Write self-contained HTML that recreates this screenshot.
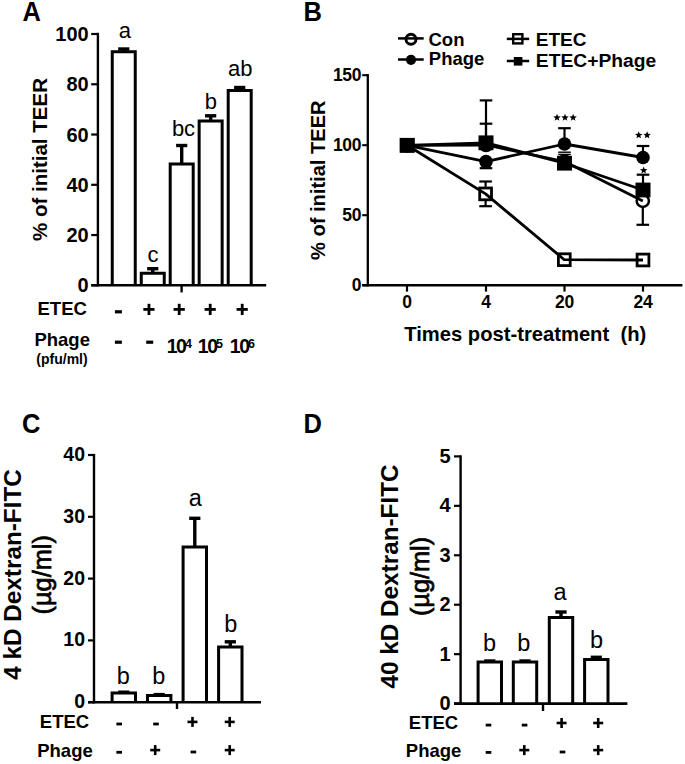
<!DOCTYPE html>
<html><head><meta charset="utf-8"><style>
html,body{margin:0;padding:0;background:#fff;}
svg{display:block;}
text{font-family:"Liberation Sans", sans-serif;fill:#000;}
</style></head><body>
<svg width="685" height="764" viewBox="0 0 685 764">
<rect width="685" height="764" fill="#fff"/>
<text transform="translate(22.4,20.9) scale(1,1.06)" font-size="25.5" font-weight="bold">A</text>
<line x1="97.90" y1="32.80" x2="97.90" y2="286.50" stroke="#000" stroke-width="2.4" stroke-linecap="butt"/>
<line x1="91.20" y1="285.30" x2="97.90" y2="285.30" stroke="#000" stroke-width="2.2" stroke-linecap="butt"/>
<text x="88.70" y="292.40" font-size="20" font-weight="bold" text-anchor="end" >0</text>
<line x1="91.20" y1="235.04" x2="97.90" y2="235.04" stroke="#000" stroke-width="2.2" stroke-linecap="butt"/>
<text x="88.70" y="242.14" font-size="20" font-weight="bold" text-anchor="end" >20</text>
<line x1="91.20" y1="184.78" x2="97.90" y2="184.78" stroke="#000" stroke-width="2.2" stroke-linecap="butt"/>
<text x="88.70" y="191.88" font-size="20" font-weight="bold" text-anchor="end" >40</text>
<line x1="91.20" y1="134.52" x2="97.90" y2="134.52" stroke="#000" stroke-width="2.2" stroke-linecap="butt"/>
<text x="88.70" y="141.62" font-size="20" font-weight="bold" text-anchor="end" >60</text>
<line x1="91.20" y1="84.26" x2="97.90" y2="84.26" stroke="#000" stroke-width="2.2" stroke-linecap="butt"/>
<text x="88.70" y="91.36" font-size="20" font-weight="bold" text-anchor="end" >80</text>
<line x1="91.20" y1="34.00" x2="97.90" y2="34.00" stroke="#000" stroke-width="2.2" stroke-linecap="butt"/>
<text x="88.70" y="41.10" font-size="20" font-weight="bold" text-anchor="end" >100</text>
<line x1="91.20" y1="285.30" x2="266.20" y2="285.30" stroke="#000" stroke-width="2.6" stroke-linecap="butt"/>
<line x1="181.60" y1="285.30" x2="181.60" y2="292.40" stroke="#000" stroke-width="2.4" stroke-linecap="butt"/>
<text transform="translate(47.00,159.50) rotate(-90)" font-size="20.5" font-weight="bold" text-anchor="middle" >% of initial TEER</text>
<line x1="123.75" y1="49.00" x2="123.75" y2="51.70" stroke="#000" stroke-width="3.4" stroke-linecap="butt"/>
<line x1="118.15" y1="49.00" x2="129.35" y2="49.00" stroke="#000" stroke-width="3.4" stroke-linecap="butt"/>
<line x1="152.75" y1="268.70" x2="152.75" y2="273.20" stroke="#000" stroke-width="3.4" stroke-linecap="butt"/>
<line x1="147.15" y1="268.70" x2="158.35" y2="268.70" stroke="#000" stroke-width="3.4" stroke-linecap="butt"/>
<line x1="181.70" y1="145.50" x2="181.70" y2="164.10" stroke="#000" stroke-width="3.4" stroke-linecap="butt"/>
<line x1="176.10" y1="145.50" x2="187.30" y2="145.50" stroke="#000" stroke-width="3.4" stroke-linecap="butt"/>
<line x1="210.65" y1="115.80" x2="210.65" y2="121.10" stroke="#000" stroke-width="3.4" stroke-linecap="butt"/>
<line x1="205.05" y1="115.80" x2="216.25" y2="115.80" stroke="#000" stroke-width="3.4" stroke-linecap="butt"/>
<line x1="239.70" y1="87.50" x2="239.70" y2="90.50" stroke="#000" stroke-width="3.4" stroke-linecap="butt"/>
<line x1="234.10" y1="87.50" x2="245.30" y2="87.50" stroke="#000" stroke-width="3.4" stroke-linecap="butt"/>
<path d="M112.25,285.30 V51.70 H135.25 V285.30" fill="none" stroke="#000" stroke-width="3.0" stroke-linejoin="miter"/>
<path d="M141.25,285.30 V273.20 H164.25 V285.30" fill="none" stroke="#000" stroke-width="3.0" stroke-linejoin="miter"/>
<path d="M170.20,285.30 V164.10 H193.20 V285.30" fill="none" stroke="#000" stroke-width="3.0" stroke-linejoin="miter"/>
<path d="M199.15,285.30 V121.10 H222.15 V285.30" fill="none" stroke="#000" stroke-width="3.0" stroke-linejoin="miter"/>
<path d="M228.20,285.30 V90.50 H251.20 V285.30" fill="none" stroke="#000" stroke-width="3.0" stroke-linejoin="miter"/>
<text x="124.75" y="37.70" font-size="22" font-weight="normal" text-anchor="middle" >a</text>
<text x="152.90" y="262.00" font-size="22" font-weight="normal" text-anchor="middle" >c</text>
<text x="183.50" y="136.30" font-size="22" font-weight="normal" text-anchor="middle" >bc</text>
<text x="210.80" y="108.70" font-size="22" font-weight="normal" text-anchor="middle" >b</text>
<text x="240.20" y="75.70" font-size="22" font-weight="normal" text-anchor="middle" >ab</text>
<text x="62.20" y="314.60" font-size="18.5" font-weight="bold" text-anchor="middle" >ETEC</text>
<text x="62.20" y="345.60" font-size="18.5" font-weight="bold" text-anchor="middle" >Phage</text>
<text x="62.00" y="363.80" font-size="14" font-weight="bold" text-anchor="middle" >(pfu/ml)</text>
<rect x="114.90" y="310.20" width="7.00" height="3.20" fill="#000"/>
<rect x="143.35" y="308.00" width="11.20" height="2.80" fill="#000"/>
<rect x="147.55" y="303.80" width="2.80" height="11.20" fill="#000"/>
<rect x="173.60" y="308.00" width="11.20" height="2.80" fill="#000"/>
<rect x="177.80" y="303.80" width="2.80" height="11.20" fill="#000"/>
<rect x="204.60" y="308.00" width="11.20" height="2.80" fill="#000"/>
<rect x="208.80" y="303.80" width="2.80" height="11.20" fill="#000"/>
<rect x="236.60" y="308.00" width="11.20" height="2.80" fill="#000"/>
<rect x="240.80" y="303.80" width="2.80" height="11.20" fill="#000"/>
<rect x="114.90" y="340.60" width="7.00" height="3.20" fill="#000"/>
<rect x="146.20" y="340.60" width="7.00" height="3.20" fill="#000"/>
<text x="166.70" y="353.2" font-size="19.5" font-weight="bold" letter-spacing="-1.5">10<tspan font-size="12.5" dx="-0.4" dy="-5.6" letter-spacing="0">4</tspan></text>
<text x="197.80" y="353.2" font-size="19.5" font-weight="bold" letter-spacing="-1.5">10<tspan font-size="12.5" dx="-0.4" dy="-5.6" letter-spacing="0">5</tspan></text>
<text x="229.80" y="353.2" font-size="19.5" font-weight="bold" letter-spacing="-1.5">10<tspan font-size="12.5" dx="-0.4" dy="-5.6" letter-spacing="0">6</tspan></text>
<text transform="translate(303.4,20.9) scale(1,1.06)" font-size="25.5" font-weight="bold">B</text>
<line x1="367.80" y1="74.10" x2="367.80" y2="286.40" stroke="#000" stroke-width="2.3" stroke-linecap="butt"/>
<line x1="362.20" y1="285.20" x2="367.80" y2="285.20" stroke="#000" stroke-width="2.1" stroke-linecap="butt"/>
<text x="361.00" y="291.40" font-size="17.5" font-weight="bold" text-anchor="end" letter-spacing="-0.4">0</text>
<line x1="362.20" y1="215.20" x2="367.80" y2="215.20" stroke="#000" stroke-width="2.1" stroke-linecap="butt"/>
<text x="361.00" y="221.40" font-size="17.5" font-weight="bold" text-anchor="end" letter-spacing="-0.4">50</text>
<line x1="362.20" y1="145.20" x2="367.80" y2="145.20" stroke="#000" stroke-width="2.1" stroke-linecap="butt"/>
<text x="361.00" y="151.40" font-size="17.5" font-weight="bold" text-anchor="end" letter-spacing="-0.4">100</text>
<line x1="362.20" y1="75.20" x2="367.80" y2="75.20" stroke="#000" stroke-width="2.1" stroke-linecap="butt"/>
<text x="361.00" y="81.40" font-size="17.5" font-weight="bold" text-anchor="end" letter-spacing="-0.4">150</text>
<line x1="362.20" y1="285.30" x2="682.40" y2="285.30" stroke="#000" stroke-width="2.4" stroke-linecap="butt"/>
<line x1="407.00" y1="285.30" x2="407.00" y2="291.60" stroke="#000" stroke-width="2.2" stroke-linecap="butt"/>
<text x="407.00" y="307.80" font-size="17.5" font-weight="bold" text-anchor="middle" letter-spacing="-0.3">0</text>
<line x1="486.00" y1="285.30" x2="486.00" y2="291.60" stroke="#000" stroke-width="2.2" stroke-linecap="butt"/>
<text x="486.00" y="307.80" font-size="17.5" font-weight="bold" text-anchor="middle" letter-spacing="-0.3">4</text>
<line x1="564.50" y1="285.30" x2="564.50" y2="291.60" stroke="#000" stroke-width="2.2" stroke-linecap="butt"/>
<text x="564.50" y="307.80" font-size="17.5" font-weight="bold" text-anchor="middle" letter-spacing="-0.3">20</text>
<line x1="643.00" y1="285.30" x2="643.00" y2="291.60" stroke="#000" stroke-width="2.2" stroke-linecap="butt"/>
<text x="643.00" y="307.80" font-size="17.5" font-weight="bold" text-anchor="middle" letter-spacing="-0.3">24</text>
<text transform="translate(404.2,341.0) scale(1,1.03)" font-size="20.2" font-weight="bold">Times post-treatment</text>
<text transform="translate(620.4,341.0) scale(1,1.03)" font-size="20.2" font-weight="bold">(h)</text>
<text transform="translate(325.20,180.20) rotate(-90)" font-size="20.1" font-weight="bold" text-anchor="middle" >% of initial TEER</text>
<line x1="486.00" y1="100.40" x2="486.00" y2="136.00" stroke="#000" stroke-width="2.2" stroke-linecap="butt"/>
<line x1="479.70" y1="100.40" x2="492.30" y2="100.40" stroke="#000" stroke-width="2.2" stroke-linecap="butt"/>
<line x1="486.00" y1="123.70" x2="486.00" y2="136.00" stroke="#000" stroke-width="2.2" stroke-linecap="butt"/>
<line x1="479.70" y1="123.70" x2="492.30" y2="123.70" stroke="#000" stroke-width="2.2" stroke-linecap="butt"/>
<line x1="485.60" y1="181.50" x2="485.60" y2="186.80" stroke="#000" stroke-width="2.2" stroke-linecap="butt"/>
<line x1="479.30" y1="181.50" x2="491.90" y2="181.50" stroke="#000" stroke-width="2.2" stroke-linecap="butt"/>
<line x1="485.60" y1="206.20" x2="485.60" y2="201.00" stroke="#000" stroke-width="2.2" stroke-linecap="butt"/>
<line x1="479.30" y1="206.20" x2="491.90" y2="206.20" stroke="#000" stroke-width="2.2" stroke-linecap="butt"/>
<line x1="486.00" y1="168.20" x2="486.00" y2="165.00" stroke="#000" stroke-width="2.2" stroke-linecap="butt"/>
<line x1="479.70" y1="168.20" x2="492.30" y2="168.20" stroke="#000" stroke-width="2.2" stroke-linecap="butt"/>
<line x1="564.50" y1="128.20" x2="564.50" y2="138.00" stroke="#000" stroke-width="2.2" stroke-linecap="butt"/>
<line x1="558.20" y1="128.20" x2="570.80" y2="128.20" stroke="#000" stroke-width="2.2" stroke-linecap="butt"/>
<line x1="558.20" y1="152.20" x2="570.80" y2="152.20" stroke="#000" stroke-width="1.4" stroke-linecap="butt"/>
<line x1="558.20" y1="154.40" x2="570.80" y2="154.40" stroke="#000" stroke-width="1.4" stroke-linecap="butt"/>
<line x1="643.00" y1="146.00" x2="643.00" y2="151.00" stroke="#000" stroke-width="2.2" stroke-linecap="butt"/>
<line x1="636.70" y1="146.00" x2="649.30" y2="146.00" stroke="#000" stroke-width="2.2" stroke-linecap="butt"/>
<line x1="643.00" y1="174.70" x2="643.00" y2="183.00" stroke="#000" stroke-width="2.2" stroke-linecap="butt"/>
<line x1="636.70" y1="174.70" x2="649.30" y2="174.70" stroke="#000" stroke-width="2.2" stroke-linecap="butt"/>
<line x1="642.80" y1="224.80" x2="642.80" y2="208.00" stroke="#000" stroke-width="2.2" stroke-linecap="butt"/>
<line x1="636.50" y1="224.80" x2="649.10" y2="224.80" stroke="#000" stroke-width="2.2" stroke-linecap="butt"/>
<polyline points="407.20,145.30 486.00,145.00 564.50,161.50 642.80,200.90" fill="none" stroke="#000" stroke-width="2.8" stroke-linejoin="round"/>
<polyline points="407.20,145.30 486.00,161.60 564.50,144.00 643.00,157.50" fill="none" stroke="#000" stroke-width="2.8" stroke-linejoin="round"/>
<polyline points="407.20,145.30 485.60,193.90 564.30,259.70 643.00,260.00" fill="none" stroke="#000" stroke-width="2.8" stroke-linejoin="round"/>
<polyline points="407.20,145.30 486.00,142.80 564.50,163.20 643.00,190.00" fill="none" stroke="#000" stroke-width="2.8" stroke-linejoin="round"/>
<circle cx="407.20" cy="145.30" r="6.1" fill="none" stroke="#000" stroke-width="2.5"/>
<circle cx="486.00" cy="145.00" r="6.1" fill="none" stroke="#000" stroke-width="2.5"/>
<circle cx="564.50" cy="161.50" r="6.1" fill="none" stroke="#000" stroke-width="2.5"/>
<circle cx="642.80" cy="200.90" r="6.1" fill="none" stroke="#000" stroke-width="2.5"/>
<circle cx="407.20" cy="145.30" r="6.8" fill="#000"/>
<circle cx="486.00" cy="161.60" r="6.8" fill="#000"/>
<circle cx="564.50" cy="144.00" r="6.8" fill="#000"/>
<circle cx="643.00" cy="157.50" r="6.8" fill="#000"/>
<rect x="401.30" y="139.40" width="11.8" height="11.8" fill="none" stroke="#000" stroke-width="2.8"/>
<rect x="479.70" y="188.00" width="11.8" height="11.8" fill="none" stroke="#000" stroke-width="2.8"/>
<rect x="558.40" y="253.80" width="11.8" height="11.8" fill="none" stroke="#000" stroke-width="2.8"/>
<rect x="637.10" y="254.10" width="11.8" height="11.8" fill="none" stroke="#000" stroke-width="2.8"/>
<rect x="399.70" y="137.90" width="15" height="14.8" fill="#000"/>
<rect x="478.50" y="135.40" width="15" height="14.8" fill="#000"/>
<rect x="557.00" y="155.80" width="15" height="14.8" fill="#000"/>
<rect x="635.50" y="182.60" width="15" height="14.8" fill="#000"/>
<polygon points="557.00,113.70 558.01,116.21 560.71,116.39 558.63,118.13 559.29,120.76 557.00,119.32 554.71,120.76 555.37,118.13 553.29,116.39 555.99,116.21" fill="#000"/>
<polygon points="565.00,113.70 566.01,116.21 568.71,116.39 566.63,118.13 567.29,120.76 565.00,119.32 562.71,120.76 563.37,118.13 561.29,116.39 563.99,116.21" fill="#000"/>
<polygon points="573.10,113.70 574.11,116.21 576.81,116.39 574.73,118.13 575.39,120.76 573.10,119.32 570.81,120.76 571.47,118.13 569.39,116.39 572.09,116.21" fill="#000"/>
<polygon points="638.70,131.30 639.71,133.81 642.41,133.99 640.33,135.73 640.99,138.36 638.70,136.92 636.41,138.36 637.07,135.73 634.99,133.99 637.69,133.81" fill="#000"/>
<polygon points="647.10,131.30 648.11,133.81 650.81,133.99 648.73,135.73 649.39,138.36 647.10,136.92 644.81,138.36 645.47,135.73 643.39,133.99 646.09,133.81" fill="#000"/>
<polygon points="643.70,166.50 644.71,169.01 647.41,169.19 645.33,170.93 645.99,173.56 643.70,172.12 641.41,173.56 642.07,170.93 639.99,169.19 642.69,169.01" fill="#000"/>
<line x1="398.00" y1="38.40" x2="423.70" y2="38.40" stroke="#000" stroke-width="2.5" stroke-linecap="butt"/>
<circle cx="411" cy="39.3" r="5.0" fill="none" stroke="#000" stroke-width="2.9"/>
<text x="428.50" y="45.60" font-size="18.5" font-weight="bold" text-anchor="start" >Con</text>
<line x1="398.00" y1="59.50" x2="423.70" y2="59.50" stroke="#000" stroke-width="2.5" stroke-linecap="butt"/>
<circle cx="411" cy="59.8" r="5.1" fill="#000"/>
<text x="428.80" y="64.80" font-size="18.5" font-weight="bold" text-anchor="start" >Phage</text>
<line x1="506.80" y1="38.90" x2="529.20" y2="38.90" stroke="#000" stroke-width="2.5" stroke-linecap="butt"/>
<rect x="513.2" y="34.2" width="9.2" height="9.2" fill="none" stroke="#000" stroke-width="2.4"/>
<text x="535.80" y="46.30" font-size="19" font-weight="bold" text-anchor="start" >ETEC</text>
<line x1="506.80" y1="61.00" x2="529.20" y2="61.00" stroke="#000" stroke-width="2.5" stroke-linecap="butt"/>
<rect x="513.8" y="57.0" width="8.6" height="8.6" fill="#000"/>
<text x="535.80" y="67.20" font-size="19.25" font-weight="bold" text-anchor="start" >ETEC+Phage</text>
<text transform="translate(22.0,433.4) scale(1,1.06)" font-size="25.5" font-weight="bold">C</text>
<line x1="94.00" y1="453.90" x2="94.00" y2="703.40" stroke="#000" stroke-width="2.4" stroke-linecap="butt"/>
<line x1="88.00" y1="702.20" x2="94.00" y2="702.20" stroke="#000" stroke-width="2.2" stroke-linecap="butt"/>
<text x="85.00" y="708.10" font-size="19.5" font-weight="bold" text-anchor="end" >0</text>
<line x1="88.00" y1="640.40" x2="94.00" y2="640.40" stroke="#000" stroke-width="2.2" stroke-linecap="butt"/>
<text x="85.00" y="646.30" font-size="19.5" font-weight="bold" text-anchor="end" >10</text>
<line x1="88.00" y1="578.60" x2="94.00" y2="578.60" stroke="#000" stroke-width="2.2" stroke-linecap="butt"/>
<text x="85.00" y="584.50" font-size="19.5" font-weight="bold" text-anchor="end" >20</text>
<line x1="88.00" y1="516.80" x2="94.00" y2="516.80" stroke="#000" stroke-width="2.2" stroke-linecap="butt"/>
<text x="85.00" y="522.70" font-size="19.5" font-weight="bold" text-anchor="end" >30</text>
<line x1="88.00" y1="455.00" x2="94.00" y2="455.00" stroke="#000" stroke-width="2.2" stroke-linecap="butt"/>
<text x="85.00" y="460.90" font-size="19.5" font-weight="bold" text-anchor="end" >40</text>
<line x1="88.00" y1="702.20" x2="261.00" y2="702.20" stroke="#000" stroke-width="2.6" stroke-linecap="butt"/>
<line x1="177.00" y1="702.20" x2="177.00" y2="709.00" stroke="#000" stroke-width="2.4" stroke-linecap="butt"/>
<text transform="translate(21.00,574.50) rotate(-90)" font-size="24.3" font-weight="bold" text-anchor="middle" >4 kD Dextran-FITC</text>
<text transform="translate(51.00,574.80) rotate(-90)" font-size="25.3" font-weight="normal" text-anchor="middle" stroke="#000" stroke-width="0.7">(µg/ml)</text>
<line x1="123.80" y1="692.20" x2="123.80" y2="693.10" stroke="#000" stroke-width="3.4" stroke-linecap="butt"/>
<line x1="118.20" y1="692.20" x2="129.40" y2="692.20" stroke="#000" stroke-width="3.4" stroke-linecap="butt"/>
<line x1="159.20" y1="694.60" x2="159.20" y2="695.50" stroke="#000" stroke-width="3.4" stroke-linecap="butt"/>
<line x1="153.60" y1="694.60" x2="164.80" y2="694.60" stroke="#000" stroke-width="3.4" stroke-linecap="butt"/>
<line x1="194.80" y1="518.30" x2="194.80" y2="547.10" stroke="#000" stroke-width="3.4" stroke-linecap="butt"/>
<line x1="189.20" y1="518.30" x2="200.40" y2="518.30" stroke="#000" stroke-width="3.4" stroke-linecap="butt"/>
<line x1="230.30" y1="641.80" x2="230.30" y2="647.10" stroke="#000" stroke-width="3.4" stroke-linecap="butt"/>
<line x1="224.70" y1="641.80" x2="235.90" y2="641.80" stroke="#000" stroke-width="3.4" stroke-linecap="butt"/>
<path d="M112.10,702.20 V693.10 H135.50 V702.20" fill="none" stroke="#000" stroke-width="3.0" stroke-linejoin="miter"/>
<path d="M147.50,702.20 V695.50 H170.90 V702.20" fill="none" stroke="#000" stroke-width="3.0" stroke-linejoin="miter"/>
<path d="M183.10,702.20 V547.10 H206.50 V702.20" fill="none" stroke="#000" stroke-width="3.0" stroke-linejoin="miter"/>
<path d="M218.60,702.20 V647.10 H242.00 V702.20" fill="none" stroke="#000" stroke-width="3.0" stroke-linejoin="miter"/>
<text x="123.20" y="683.80" font-size="23.5" font-weight="normal" text-anchor="middle" >b</text>
<text x="158.90" y="683.80" font-size="23.5" font-weight="normal" text-anchor="middle" >b</text>
<text x="195.30" y="505.60" font-size="23.5" font-weight="normal" text-anchor="middle" >a</text>
<text x="230.90" y="632.40" font-size="23.5" font-weight="normal" text-anchor="middle" >b</text>
<text x="64.50" y="728.00" font-size="18.5" font-weight="bold" text-anchor="middle" >ETEC</text>
<text x="65.00" y="756.80" font-size="18.5" font-weight="bold" text-anchor="middle" >Phage</text>
<rect x="116.40" y="722.60" width="5.60" height="2.80" fill="#000"/>
<rect x="153.20" y="722.60" width="5.60" height="2.80" fill="#000"/>
<rect x="187.50" y="720.60" width="10.00" height="2.60" fill="#000"/>
<rect x="191.20" y="716.90" width="2.60" height="10.00" fill="#000"/>
<rect x="224.70" y="720.60" width="10.00" height="2.60" fill="#000"/>
<rect x="228.40" y="716.90" width="2.60" height="10.00" fill="#000"/>
<rect x="116.40" y="750.90" width="5.60" height="2.80" fill="#000"/>
<rect x="150.20" y="748.80" width="10.00" height="2.60" fill="#000"/>
<rect x="153.90" y="745.10" width="2.60" height="10.00" fill="#000"/>
<rect x="190.60" y="750.60" width="5.60" height="2.80" fill="#000"/>
<rect x="224.70" y="748.80" width="10.00" height="2.60" fill="#000"/>
<rect x="228.40" y="745.10" width="2.60" height="10.00" fill="#000"/>
<text transform="translate(303.4,433.4) scale(1,1.06)" font-size="25.5" font-weight="bold">D</text>
<line x1="460.60" y1="455.30" x2="460.60" y2="704.80" stroke="#000" stroke-width="2.4" stroke-linecap="butt"/>
<line x1="454.00" y1="703.60" x2="460.60" y2="703.60" stroke="#000" stroke-width="2.2" stroke-linecap="butt"/>
<text x="450.60" y="710.10" font-size="20" font-weight="bold" text-anchor="end" >0</text>
<line x1="454.00" y1="654.16" x2="460.60" y2="654.16" stroke="#000" stroke-width="2.2" stroke-linecap="butt"/>
<text x="450.60" y="660.66" font-size="20" font-weight="bold" text-anchor="end" >1</text>
<line x1="454.00" y1="604.72" x2="460.60" y2="604.72" stroke="#000" stroke-width="2.2" stroke-linecap="butt"/>
<text x="450.60" y="611.22" font-size="20" font-weight="bold" text-anchor="end" >2</text>
<line x1="454.00" y1="555.28" x2="460.60" y2="555.28" stroke="#000" stroke-width="2.2" stroke-linecap="butt"/>
<text x="450.60" y="561.78" font-size="20" font-weight="bold" text-anchor="end" >3</text>
<line x1="454.00" y1="505.84" x2="460.60" y2="505.84" stroke="#000" stroke-width="2.2" stroke-linecap="butt"/>
<text x="450.60" y="512.34" font-size="20" font-weight="bold" text-anchor="end" >4</text>
<line x1="454.00" y1="456.40" x2="460.60" y2="456.40" stroke="#000" stroke-width="2.2" stroke-linecap="butt"/>
<text x="450.60" y="462.90" font-size="20" font-weight="bold" text-anchor="end" >5</text>
<line x1="454.00" y1="703.60" x2="627.40" y2="703.60" stroke="#000" stroke-width="2.6" stroke-linecap="butt"/>
<line x1="543.00" y1="703.60" x2="543.00" y2="711.00" stroke="#000" stroke-width="2.4" stroke-linecap="butt"/>
<text transform="translate(397.50,576.50) rotate(-90)" font-size="24.3" font-weight="bold" text-anchor="middle" >40 kD Dextran-FITC</text>
<text transform="translate(428.50,576.50) rotate(-90)" font-size="25.3" font-weight="normal" text-anchor="middle" stroke="#000" stroke-width="0.7">(µg/ml)</text>
<line x1="489.80" y1="661.00" x2="489.80" y2="662.10" stroke="#000" stroke-width="3.4" stroke-linecap="butt"/>
<line x1="484.20" y1="661.00" x2="495.40" y2="661.00" stroke="#000" stroke-width="3.4" stroke-linecap="butt"/>
<line x1="525.00" y1="661.00" x2="525.00" y2="662.10" stroke="#000" stroke-width="3.4" stroke-linecap="butt"/>
<line x1="519.40" y1="661.00" x2="530.60" y2="661.00" stroke="#000" stroke-width="3.4" stroke-linecap="butt"/>
<line x1="561.00" y1="612.00" x2="561.00" y2="617.50" stroke="#000" stroke-width="3.4" stroke-linecap="butt"/>
<line x1="555.40" y1="612.00" x2="566.60" y2="612.00" stroke="#000" stroke-width="3.4" stroke-linecap="butt"/>
<line x1="596.30" y1="657.30" x2="596.30" y2="659.50" stroke="#000" stroke-width="3.4" stroke-linecap="butt"/>
<line x1="590.70" y1="657.30" x2="601.90" y2="657.30" stroke="#000" stroke-width="3.4" stroke-linecap="butt"/>
<path d="M478.10,703.60 V662.10 H501.50 V703.60" fill="none" stroke="#000" stroke-width="3.0" stroke-linejoin="miter"/>
<path d="M513.30,703.60 V662.10 H536.70 V703.60" fill="none" stroke="#000" stroke-width="3.0" stroke-linejoin="miter"/>
<path d="M549.30,703.60 V617.50 H572.70 V703.60" fill="none" stroke="#000" stroke-width="3.0" stroke-linejoin="miter"/>
<path d="M584.60,703.60 V659.50 H608.00 V703.60" fill="none" stroke="#000" stroke-width="3.0" stroke-linejoin="miter"/>
<text x="489.50" y="651.00" font-size="23.5" font-weight="normal" text-anchor="middle" >b</text>
<text x="523.90" y="651.00" font-size="23.5" font-weight="normal" text-anchor="middle" >b</text>
<text x="560.00" y="600.00" font-size="23.5" font-weight="normal" text-anchor="middle" >a</text>
<text x="596.50" y="647.60" font-size="23.5" font-weight="normal" text-anchor="middle" >b</text>
<text x="433.50" y="728.60" font-size="18.5" font-weight="bold" text-anchor="middle" >ETEC</text>
<text x="433.60" y="756.80" font-size="18.5" font-weight="bold" text-anchor="middle" >Phage</text>
<rect x="485.70" y="723.70" width="5.60" height="2.80" fill="#000"/>
<rect x="521.80" y="723.70" width="5.60" height="2.80" fill="#000"/>
<rect x="556.60" y="721.70" width="10.00" height="2.60" fill="#000"/>
<rect x="560.30" y="718.00" width="2.60" height="10.00" fill="#000"/>
<rect x="593.20" y="721.70" width="10.00" height="2.60" fill="#000"/>
<rect x="596.90" y="718.00" width="2.60" height="10.00" fill="#000"/>
<rect x="485.70" y="751.00" width="5.60" height="2.80" fill="#000"/>
<rect x="519.30" y="748.80" width="10.00" height="2.60" fill="#000"/>
<rect x="523.00" y="745.10" width="2.60" height="10.00" fill="#000"/>
<rect x="559.70" y="750.60" width="5.60" height="2.80" fill="#000"/>
<rect x="593.20" y="748.80" width="10.00" height="2.60" fill="#000"/>
<rect x="596.90" y="745.10" width="2.60" height="10.00" fill="#000"/>
</svg>
</body></html>
